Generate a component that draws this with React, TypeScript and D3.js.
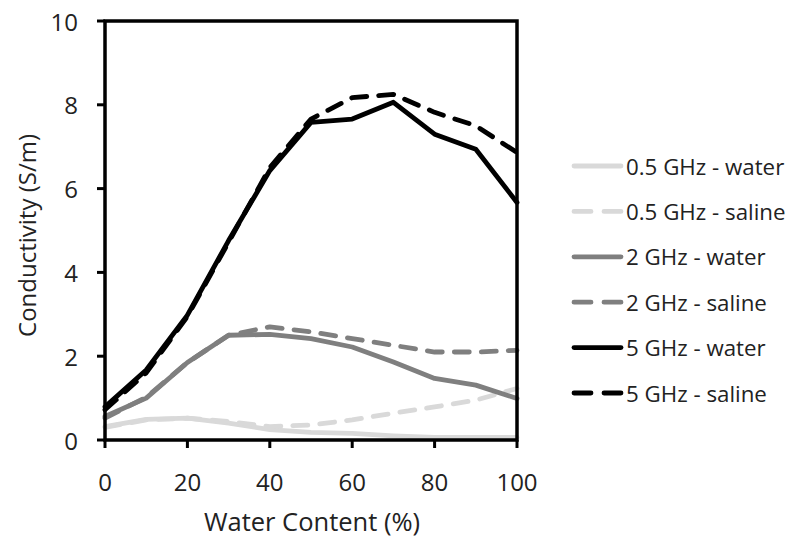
import React from "react";
import * as d3 from "d3";

const waterContent = [0, 10, 20, 30, 40, 50, 60, 70, 80, 90, 100];
const ghz05Water = [0.32, 0.49, 0.52, 0.4, 0.25, 0.18, 0.16, 0.1, 0.06, 0.06, 0.06];
const ghz05Saline = [0.3, 0.48, 0.52, 0.44, 0.32, 0.36, 0.48, 0.64, 0.79, 0.95, 1.23];
const ghz2Water = [0.56, 1.0, 1.85, 2.5, 2.52, 2.42, 2.22, 1.86, 1.47, 1.31, 0.99];
const ghz2Saline = [0.52, 1.02, 1.85, 2.5, 2.7, 2.58, 2.42, 2.26, 2.1, 2.1, 2.14];
const ghz5Water = [0.79, 1.67, 2.98, 4.76, 6.43, 7.58, 7.66, 8.06, 7.3, 6.94, 5.67];
const ghz5Saline = [0.72, 1.6, 2.95, 4.72, 6.5, 7.66, 8.17, 8.25, 7.82, 7.5, 6.86];

const seriesNames = [
  "0.5 GHz - water",
  "0.5 GHz - saline",
  "2 GHz - water",
  "2 GHz - saline",
  "5 GHz - water",
  "5 GHz - saline",
];
const seriesValues = [ghz05Water, ghz05Saline, ghz2Water, ghz2Saline, ghz5Water, ghz5Saline];
const seriesColors = ["#d9d9d9", "#d9d9d9", "#7f7f7f", "#7f7f7f", "#000000", "#000000"];
const seriesDashed = [false, true, false, true, false, true];

const xTicks = [0, 20, 40, 60, 80, 100];
const yTicks = [0, 2, 4, 6, 8, 10];

const FONT = "'Open Sans', Lato, sans-serif";
const FS = 24;

export default function App() {
  const left = 105;
  const right = 517;
  const top = 21;
  const bottom = 440;
  const x = d3.scaleLinear().domain([0, 100]).range([left, right]);
  const y = d3.scaleLinear().domain([0, 10]).range([bottom, top]);
  const line = d3
    .line<number>()
    .x((_, i) => x(waterContent[i]))
    .y((d) => y(d));

  const legendX0 = 572;
  const legendX1 = 623;
  const legendY0 = 166;
  const legendStep = 45.4;
  const dash = "15,12";

  return (
    <svg width={800} height={546} style={{ position: "absolute", left: 0, top: 0, background: "#fff" }}>
      <rect x={0} y={0} width={800} height={546} fill="#ffffff" />
      {seriesValues.map((vals, i) => (
        <path
          key={seriesNames[i]}
          d={line(vals) || ""}
          fill="none"
          stroke={seriesColors[i]}
          strokeWidth={4.8}
          strokeLinejoin="round"
          strokeLinecap="round"
          strokeDasharray={seriesDashed[i] ? dash : undefined}
        />
      ))}
      <rect x={left} y={top} width={right - left} height={bottom - top} fill="none" stroke="#000" strokeWidth={3.5} />
      {yTicks.map((t) => (
        <g key={"y" + t}>
          <line x1={left - 8} x2={left} y1={y(t)} y2={y(t)} stroke="#000" strokeWidth={3} />
          <text
            x={78}
            y={y(t)}
            textAnchor="end"
            dominantBaseline="central"
            fontFamily={FONT}
            fontSize={FS}
            fill="#222"
          >
            {t}
          </text>
        </g>
      ))}
      {xTicks.map((t) => (
        <g key={"x" + t}>
          <line x1={x(t)} x2={x(t)} y1={bottom} y2={bottom + 8} stroke="#000" strokeWidth={3} />
          <text
            x={x(t)}
            y={481}
            textAnchor="middle"
            dominantBaseline="central"
            fontFamily={FONT}
            fontSize={FS}
            fill="#222"
          >
            {t}
          </text>
        </g>
      ))}
      <text
        x={312}
        y={521}
        textAnchor="middle"
        dominantBaseline="central"
        fontFamily={FONT}
        fontSize={25.5}
        fill="#222"
      >
        Water Content (%)
      </text>
      <text
        transform={`translate(26,${(top + bottom) / 2 + 5}) rotate(-90)`}
        textAnchor="middle"
        dominantBaseline="central"
        fontFamily={FONT}
        fontSize={FS}
        fill="#222"
      >
        Conductivity (S/m)
      </text>
      {seriesNames.map((name, i) => {
        const ly = legendY0 + i * legendStep;
        return (
          <g key={"lg" + name}>
            <line
              x1={legendX0 + 2}
              x2={legendX1 - 2}
              y1={ly}
              y2={ly}
              stroke={seriesColors[i]}
              strokeWidth={4.8}
              strokeLinecap="round"
              strokeDasharray={seriesDashed[i] ? "17,13" : undefined}
            />
            <text
              x={legendX1 + 3}
              y={ly}
              dominantBaseline="central"
              fontFamily={FONT}
              fontSize={22.3}
              fill="#222"
            >
              {name}
            </text>
          </g>
        );
      })}
    </svg>
  );
}
